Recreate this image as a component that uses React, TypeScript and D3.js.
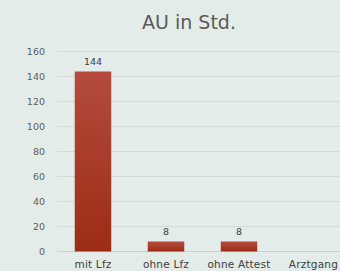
import React from "react";
import * as d3 from "d3";

const categories = ["mit Lfz", "ohne Lfz", "ohne Attest", "Arztgang"];
const values = [144, 8, 8, 0];
const valueLabels = ["144", "8", "8", ""];
const yTicks = [0, 20, 40, 60, 80, 100, 120, 140, 160];
const title = "AU in Std.";

export default function App() {
  const W = 340, H = 271;
  const x = d3.scaleBand<string>().domain(categories).range([56.5, 348.5]).paddingInner(0.5).paddingOuter(0.25);
  const y = d3.scaleLinear().domain([0, 160]).range([251.5, 51.5]);
  const font = "'DejaVu Sans', sans-serif";
  return (
    <svg width={W} height={H} style={{ position: "absolute", left: 0, top: 0 }}>
      <defs>
        <linearGradient id="bg" x1="0" y1="0" x2="0" y2="1">
          <stop offset="0" stopColor="#b44b3d" />
          <stop offset="1" stopColor="#9d2c15" />
        </linearGradient>
      </defs>
      <rect width={W} height={H} fill="#e3ece8" />
      <text x={189} y={29} textAnchor="middle" fontFamily={font} fontSize={19} fill="#5a5a5a">{title}</text>
      {yTicks.map((t) => (
        <g key={t}>
          <line x1={57} x2={W} y1={y(t)} y2={y(t)} stroke={t === 0 ? "#c9d1ce" : "#d3dbd8"} strokeWidth={1} />
          <text x={45} y={y(t) + 3.5} textAnchor="end" fontFamily={font} fontSize={9.5} fill="#5f5f5f">{t}</text>
        </g>
      ))}
      {categories.map((c, i) => (
        <g key={c}>
          {values[i] > 0 && (
            <rect x={x(c)} y={y(values[i])} width={x.bandwidth()} height={y(0) - y(values[i])} fill="url(#bg)" />
          )}
          {valueLabels[i] && (
            <text x={x(c)! + x.bandwidth() / 2} y={y(values[i]) - 7} textAnchor="middle" fontFamily={font} fontSize={9.5} fill="#404040">{valueLabels[i]}</text>
          )}
          <text x={i === 3 ? 338 : x(c)! + x.bandwidth() / 2} y={268} textAnchor={i === 3 ? "end" : "middle"} fontFamily={font} fontSize={10.5} letterSpacing={0.2} fill="#404040">{c}</text>
        </g>
      ))}
    </svg>
  );
}
